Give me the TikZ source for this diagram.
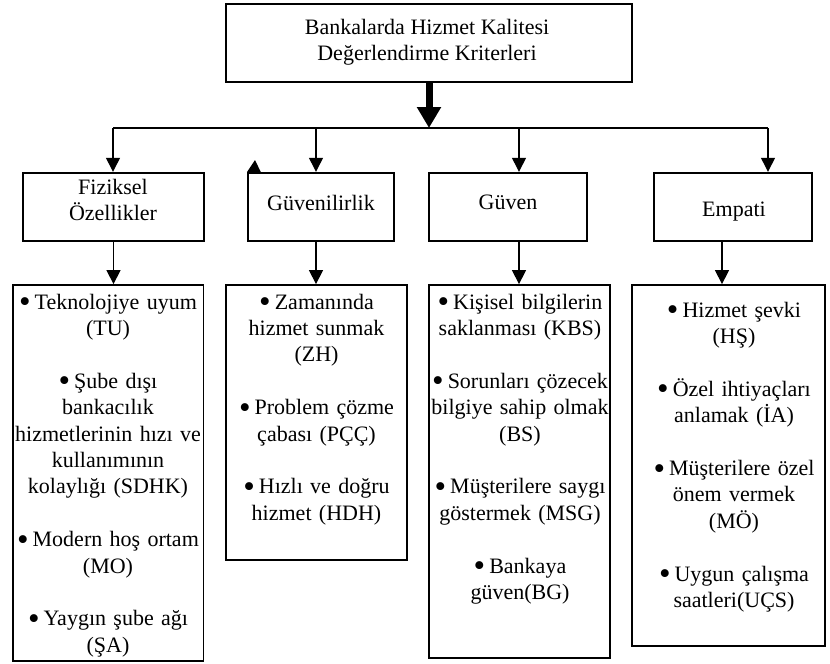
\documentclass[tikz,border=0pt]{standalone}
\usepackage{fontspec}
\setmainfont{Liberation Serif}
\usetikzlibrary{arrows.meta}
\newcommand\bulx{\raisebox{-3.6pt}{\fontsize{33}{0}\selectfont •}\hspace{4pt}}
\begin{document}
\begin{tikzpicture}[x=1pt,y=-1pt,
  box/.style={draw, line width=1.8pt, inner sep=0pt},
  txt/.style={align=center, font=\fontsize{22}{26.4}\selectfont, inner sep=0pt},
  list/.style={txt, text width=220pt, anchor=base},
  arr/.style={line width=1.3pt, -{Triangle[width=14pt,length=14pt]}},
  bigarr/.style={line width=7pt, -{Triangle[width=23pt,length=21pt]}}]
\useasboundingbox (0,0) rectangle (830,664);
% boxes
\node[box, minimum width=406pt, minimum height=78pt] (top) at (429,43) {};
\node[box, minimum width=181pt, minimum height=68pt] (F) at (113.5,206.7) {};
\node[box, minimum width=146pt, minimum height=68pt] (G) at (321,206.7) {};
\node[box, minimum width=158pt, minimum height=68pt] (Gv) at (508,206.7) {};
\node[box, minimum width=158pt, minimum height=68pt] (E) at (733,206.7) {};
\node[box, minimum width=190.5pt, minimum height=376pt] (L1) at (108.25,473) {};
\node[box, minimum width=181pt, minimum height=275pt] (L2) at (316.5,422.5) {};
\node[box, minimum width=181pt, minimum height=373pt] (L3) at (519.5,471.5) {};
\node[box, minimum width=193pt, minimum height=361pt] (L4) at (728.5,465.5) {};
% texts
\node[txt] (topt) at (427,42) {Bankalarda Hizmet Kalitesi\\Değerlendirme Kriterleri};
\node[txt] (Ft) at (113,200) {Fiziksel\\Özellikler};
\node[txt] (Gt) at (321,203.3) {Güvenilirlik};
\node[txt] (Gvt) at (508,202.7) {Güven};
\node[txt] (Et) at (734,211.7) {Empati};
\node[list] (L1t) at (108,309) {\bulx Teknolojiye uyum\\(TU)\\[26.4pt]\bulx Şube dışı\\bankacılık\\hizmetlerinin hızı ve\\kullanımının\\kolaylığı (SDHK)\\[26.4pt]\bulx Modern hoş ortam\\(MO)\\[26.4pt]\bulx Yaygın şube ağı\\(ŞA)};
\node[list] (L2t) at (316.5,309) {\bulx Zamanında\\hizmet sunmak\\(ZH)\\[26.4pt]\bulx Problem çözme\\çabası (PÇÇ)\\[26.4pt]\bulx Hızlı ve doğru\\hizmet (HDH)};
\node[list] (L3t) at (520,309) {\bulx Kişisel bilgilerin\\saklanması (KBS)\\[26.4pt]\bulx Sorunları çözecek\\bilgiye sahip olmak\\(BS)\\[26.4pt]\bulx Müşterilere saygı\\göstermek (MSG)\\[26.4pt]\bulx Bankaya\\güven(BG)};
\node[list] (L4t) at (734,317) {\bulx Hizmet şevki\\(HŞ)\\[26.4pt]\bulx Özel ihtiyaçları\\anlamak (İA)\\[26.4pt]\bulx Müşterilere özel\\önem vermek\\(MÖ)\\[26.4pt]\bulx Uygun çalışma\\saatleri(UÇS)};
% connectors
\coordinate (hub) at (429,128);
\coordinate (b1) at (113,128);
\coordinate (b2) at (316,128);
\coordinate (b3) at (519,128);
\coordinate (b4) at (768,128);
\coordinate (e4) at (722,250);
\draw[bigarr] (top.south -| hub) -- (hub);
\draw[line width=1.3pt] (b1) -- (b4);
\draw[arr] (b1) -- (b1 |- F.north);
\draw[arr] (b2) -- (b2 |- G.north);
\draw[arr] (b3) -- (b3 |- Gv.north);
\draw[arr] (b4) -- (b4 |- E.north);
\draw[arr] (F.south) -- (F.south |- L1.north);
\draw[arr] (b2 |- G.south) -- (b2 |- L2.north);
\draw[arr] (b3 |- Gv.south) -- (b3 |- L3.north);
\draw[arr] (e4 |- E.south) -- (e4 |- L4.north);
% stray arrowhead at the corner of Güvenilirlik
\fill (247,172) -- (261,172.5) -- (255,160) -- cycle;
\end{tikzpicture}
\end{document}
